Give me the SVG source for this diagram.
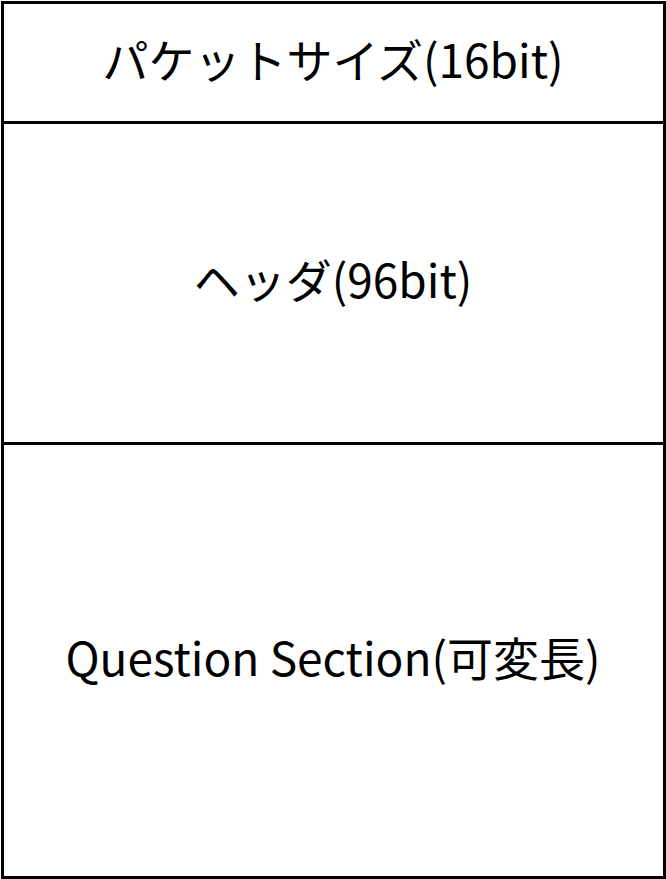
<svg xmlns="http://www.w3.org/2000/svg" width="666" height="879" viewBox="0 0 666 879">
<style>
.box{fill:#fff;stroke:#000;stroke-width:3}
.t{font-family:"Noto Sans CJK JP","Noto Sans",sans-serif;font-size:46px;fill:#000;text-anchor:middle;dominant-baseline:central}
</style>
<rect width="666" height="879" fill="#fff"/>
<g id="size">
<rect class="box" x="2.5" y="2.5" width="662" height="120"/>
<text class="t" x="333" y="58">パケットサイズ(16bit)</text>
</g>
<g id="header">
<rect class="box" x="2.5" y="122.5" width="662" height="321"/>
<text class="t" x="333" y="278">ヘッダ(96bit)</text>
</g>
<g id="question">
<rect class="box" x="2.5" y="443.5" width="662" height="434"/>
<text class="t" x="333" y="656">Question Section(可変長)</text>
</g>
</svg>
